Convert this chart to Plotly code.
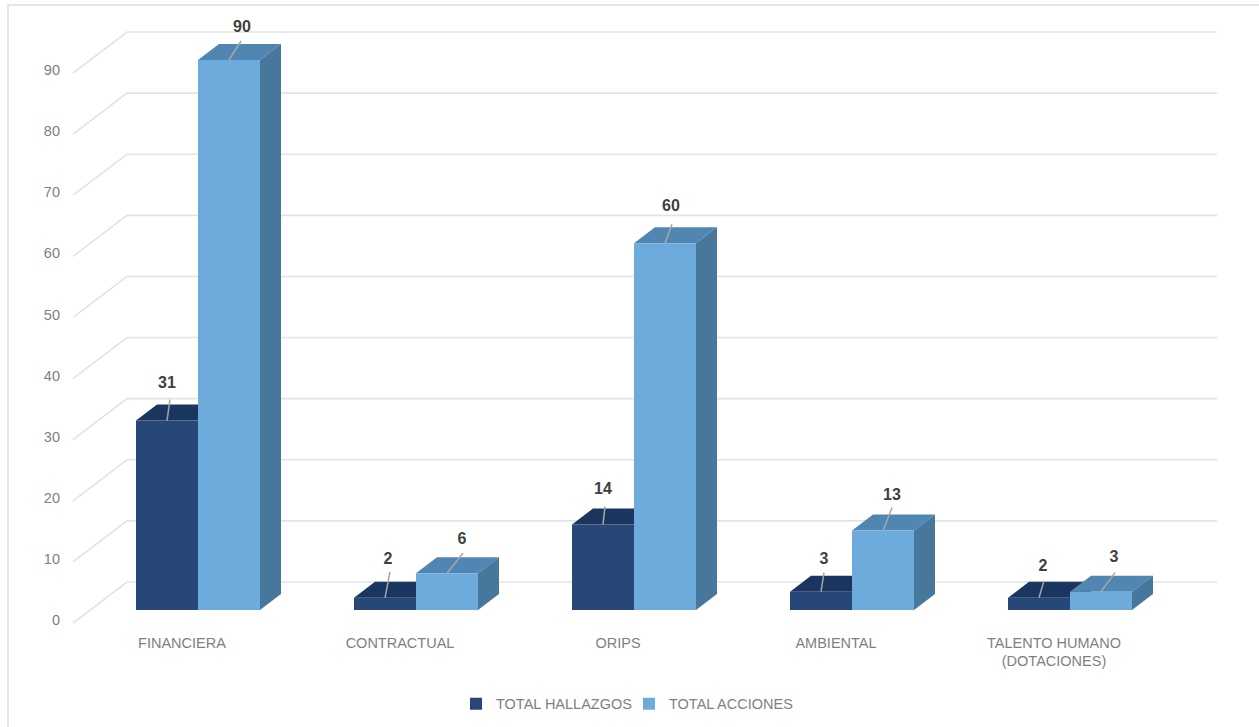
import plotly.graph_objects as go

categories = ["FINANCIERA", "CONTRACTUAL", "ORIPS", "AMBIENTAL", "TALENTO HUMANO<br>(DOTACIONES)"]
hallazgos = [31, 2, 14, 3, 2]
acciones = [90, 6, 60, 13, 3]
y_ticks = [0, 10, 20, 30, 40, 50, 60, 70, 80, 90]
# leader-line ends and label centres, offset in px from the bar's front-top centre
leader_h = [(3, -21), (5, -26), (2, -18), (3, -19), (5, -17)]
label_h = [(0, -37), (3, -38), (0, -34), (3, -32), (4, -31)]
leader_a = [(12, -19), (16, -20), (7, -19), (9, -23), (14, -19)]
label_a = [(13, -32), (15, -33), (6, -36), (9, -35), (13, -34)]

W, H = 1259, 727
PL, PR, PT, PB = 61, 1230, 12, 632   # plot box in page px
GROUP0, STEP = 198.0, 218.0          # px centre of first group, px between groups
BASE, PXU = 610.0, 6.111             # px of value 0 on bar plane, px per unit
BAR = 62.0
DX, DY = 21.0, 16.0                  # bar depth in px
WDX, WDY = 54.0, 41.0                # wall depth in px (from front of floor)
FLOOR_FRONT = 623.0

def xv(px): return (px - GROUP0) / STEP
def yv(px): return (BASE - px) / PXU

C_DARK, C_DARK_TOP = "#264778", "#1a365f"
C_LIGHT, C_LIGHT_TOP, C_LIGHT_SIDE = "#6cabdb", "#5186b2", "#47789b"
GRID = "#e3e3e3"

fig = go.Figure()

# back wall and side wall grid lines
for v in y_ticks:
    yf = FLOOR_FRONT - v * PXU
    fig.add_trace(go.Scatter(
        x=[xv(73), xv(73 + WDX), xv(1217)],
        y=[yv(yf), yv(yf - WDY), yv(yf - WDY)],
        mode="lines", line=dict(color=GRID, width=1.6),
        hoverinfo="skip", showlegend=False, zorder=0))

def faces(i, v, left, top_color, side_color, z):
    top = BASE - v * PXU
    right = left + BAR
    fig.add_trace(go.Scatter(
        x=[xv(left), xv(left + DX), xv(right + DX), xv(right), xv(left)],
        y=[yv(top), yv(top - DY), yv(top - DY), yv(top), yv(top)],
        mode="lines", fill="toself", fillcolor=top_color, line=dict(width=0),
        hoverinfo="skip", showlegend=False, zorder=z))
    fig.add_trace(go.Scatter(
        x=[xv(right), xv(right + DX), xv(right + DX), xv(right), xv(right)],
        y=[yv(top), yv(top - DY), yv(BASE - DY), yv(BASE), yv(top)],
        mode="lines", fill="toself", fillcolor=side_color, line=dict(width=0),
        hoverinfo="skip", showlegend=False, zorder=z))

for i, (h, a) in enumerate(zip(hallazgos, acciones)):
    c = GROUP0 + i * STEP
    faces(i, h, c - BAR, C_DARK_TOP, C_DARK_TOP, 1)
    faces(i, a, c, C_LIGHT_TOP, C_LIGHT_SIDE, 3)

x_index = list(range(len(categories)))
fig.add_trace(go.Bar(x=x_index, y=hallazgos, name="TOTAL HALLAZGOS", marker_color=C_DARK,
                     marker_line_width=0, width=BAR / STEP, offset=-BAR / STEP, zorder=2))
fig.add_trace(go.Bar(x=x_index, y=acciones, name="TOTAL ACCIONES", marker_color=C_LIGHT,
                     marker_line_width=0, width=BAR / STEP, offset=0, zorder=4))

# leader lines and data labels
def labels(vals, shift, leaders, offsets):
    for i, v in enumerate(vals):
        cx = GROUP0 + i * STEP + shift
        top = BASE - v * PXU
        fig.add_trace(go.Scatter(
            x=[xv(cx), xv(cx + leaders[i][0])], y=[yv(top), yv(top + leaders[i][1])],
            mode="lines", line=dict(color="#a6a6a6", width=1.5),
            hoverinfo="skip", showlegend=False, zorder=5))
        fig.add_trace(go.Scatter(
            x=[xv(cx + offsets[i][0])], y=[yv(top + offsets[i][1])],
            mode="text", text=[str(v)], textposition="middle center", cliponaxis=False,
            textfont=dict(family="Liberation Sans", size=16, color="#404040", weight="bold"),
            hoverinfo="skip", showlegend=False, zorder=6))

labels(hallazgos, -BAR / 2, leader_h, label_h)
labels(acciones, BAR / 2, leader_a, label_a)

tick_font = dict(family="Liberation Sans", size=14.5, color="#7f7f7f")
fig.update_layout(
    width=W, height=H, autosize=False,
    margin=dict(l=PL, r=W - PR, t=PT, b=H - PB),
    paper_bgcolor="white", plot_bgcolor="white",
    barmode="overlay",
    xaxis=dict(range=[xv(PL), xv(PR)], tickmode="array",
               tickvals=[i - 16 / STEP for i in x_index], ticktext=categories,
               showgrid=False, zeroline=False, showline=False, ticks="", tickfont=tick_font),
    yaxis=dict(range=[yv(PB), yv(PT)], tickmode="array",
               tickvals=[v - 10 / PXU for v in y_ticks], ticktext=[str(v) for v in y_ticks],
               showgrid=False, zeroline=False, showline=False, ticks="", tickfont=tick_font),
    legend=dict(orientation="h", x=(456 - PL) / (PR - PL), xanchor="left", xref="paper", yref="container",
                y=0.032, yanchor="middle", font=tick_font, bgcolor="rgba(0,0,0,0)",
                entrywidth=128, entrywidthmode="pixels"),
    shapes=[dict(type="rect", xref="paper", yref="paper", layer="below",
                 x0=(8 - PL) / (PR - PL), x1=(1270 - PL) / (PR - PL),
                 y0=(PB - 740) / (PB - PT), y1=(PB - 5) / (PB - PT),
                 line=dict(color="#dedede", width=1.5), fillcolor="rgba(0,0,0,0)")],
    showlegend=True,
)
fig.write_html("out.html", post_script="document.body.style.margin='0';",
               config=dict(displayModeBar=False))
